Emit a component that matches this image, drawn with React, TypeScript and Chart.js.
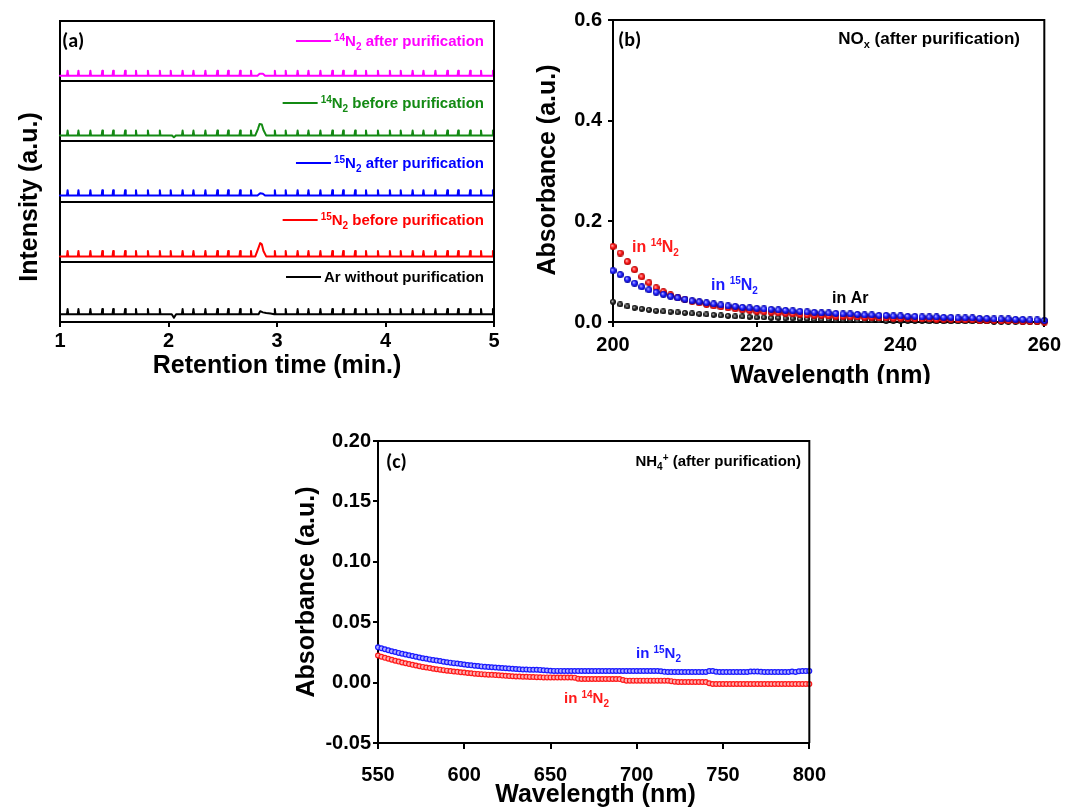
import React, { useEffect, useRef } from 'react';
import { Chart, registerables } from 'chart.js';

Chart.register(...registerables);

type Seg = [string, 'n' | 'sup' | 'sub'];
const FONT = "Arial, 'Liberation Sans', Helvetica, sans-serif";
const LFONT = "Carlito, Lato, 'Open Sans', sans-serif";

// ---------------- Panel (a): GC traces ----------------
const retentionTicks = [1, 2, 3, 4, 5];
const spikeTimes = [1.07, 1.17, 1.28, 1.39, 1.49, 1.6, 1.7, 1.81, 1.92, 2.02, 2.13, 2.23, 2.34, 2.45, 2.55, 2.66, 2.76, 2.87, 2.98, 3.08, 3.19, 3.29, 3.4, 3.51, 3.61, 3.72, 3.82, 3.93, 4.04, 4.14, 4.25, 4.35, 4.46, 4.57, 4.67, 4.78, 4.88, 4.99];
const traceLabels: Seg[][] = [
  [['14', 'sup'], ['N', 'n'], ['2', 'sub'], [' after purification', 'n']],
  [['14', 'sup'], ['N', 'n'], ['2', 'sub'], [' before purification', 'n']],
  [['15', 'sup'], ['N', 'n'], ['2', 'sub'], [' after purification', 'n']],
  [['15', 'sup'], ['N', 'n'], ['2', 'sub'], [' before purification', 'n']],
  [['Ar without purification', 'n']],
];
const traceColors = ['#ff00ff', '#138a13', '#0000ff', '#ff0000', '#000000'];
const traceSlots = [4, 3, 2, 1, 0];
const traceBaselines = [0.09, 0.1, 0.1, 0.09, 0.13];
const traceSpikeHeights = [0.085, 0.08, 0.09, 0.09, 0.085];
const traceFeatures: [number, number][][] = [
  [[2.82, 0], [2.84, 0.035], [2.87, 0.035], [2.89, 0]],
  [[2.03, 0], [2.05, -0.03], [2.07, 0], [2.8, 0], [2.825, 0.11], [2.84, 0.19], [2.86, 0.18], [2.875, 0.09], [2.9, 0]],
  [[2.82, 0], [2.845, 0.04], [2.87, 0.03], [2.89, 0]],
  [[2.8, 0], [2.825, 0.12], [2.845, 0.22], [2.86, 0.2], [2.875, 0.09], [2.9, 0]],
  [[2.03, 0], [2.05, -0.06], [2.07, 0], [2.83, 0], [2.845, 0.05], [2.87, 0.03], [2.9, 0.02], [2.94, 0.01]],
];

// ---------------- Panel (b): NOx absorbance ----------------
const wavelengthsB = Array.from({ length: 61 }, (_, i) => 200 + i);
const wavelengthTicksB = [200, 220, 240, 260];
const absTicksB = [0, 0.2, 0.4, 0.6];
const noxIn15N2 = [
  0.102, 0.094, 0.085, 0.077, 0.07, 0.064, 0.059, 0.055, 0.051, 0.048,
  0.045, 0.042, 0.04, 0.038, 0.036, 0.034, 0.032, 0.031, 0.029, 0.028,
  0.027, 0.026, 0.025, 0.024, 0.023, 0.022, 0.021, 0.02, 0.019, 0.018,
  0.018, 0.017, 0.016, 0.016, 0.015, 0.014, 0.014, 0.013, 0.013, 0.012,
  0.012, 0.011, 0.011, 0.01, 0.01, 0.01, 0.009, 0.009, 0.008, 0.008,
  0.008, 0.007, 0.007, 0.006, 0.006, 0.006, 0.005, 0.005, 0.004, 0.004, 0.003,
];
const noxIn14N2 = [
  0.15, 0.137, 0.12, 0.104, 0.09, 0.078, 0.068, 0.06, 0.054, 0.049,
  0.045, 0.041, 0.038, 0.035, 0.032, 0.03, 0.028, 0.026, 0.024, 0.023,
  0.021, 0.02, 0.019, 0.018, 0.017, 0.016, 0.015, 0.014, 0.013, 0.013,
  0.012, 0.011, 0.011, 0.01, 0.01, 0.009, 0.009, 0.008, 0.008, 0.007,
  0.007, 0.007, 0.006, 0.006, 0.006, 0.005, 0.005, 0.005, 0.004, 0.004,
  0.004, 0.003, 0.003, 0.003, 0.002, 0.002, 0.002, 0.001, 0.001, 0.001, 0.0,
];
const noxInAr = [
  0.04, 0.035, 0.031, 0.028, 0.026, 0.024, 0.022, 0.021, 0.02, 0.019,
  0.018, 0.017, 0.016, 0.015, 0.014, 0.013, 0.012, 0.011, 0.011, 0.01,
  0.009, 0.009, 0.008, 0.008, 0.007, 0.007, 0.006, 0.006, 0.005, 0.005,
  0.005, 0.004, 0.004, 0.004, 0.003, 0.003, 0.003, 0.003, 0.002, 0.002,
  0.002, 0.002, 0.002, 0.002, 0.001, 0.001, 0.001, 0.001, 0.001, 0.001,
  0.001, 0.001, 0.001, 0.0, 0.0, 0.0, 0.0, 0.0, 0.0, 0.0, 0.0,
];

// ---------------- Panel (c): NH4+ absorbance ----------------
const wavelengthsC = Array.from({ length: 126 }, (_, i) => 550 + 2 * i);
const wavelengthTicksC = [550, 600, 650, 700, 750, 800];
const absTicksC = [-0.05, 0, 0.05, 0.1, 0.15, 0.2];
const nh4In15N2 = [
  0.0292, 0.0284, 0.0276, 0.0268, 0.026, 0.0253, 0.0246, 0.0239, 0.0232, 0.0226, 0.022, 0.0214, 0.0208, 0.0202, 0.0197, 0.0192, 0.0187, 0.0182, 0.0178, 0.0173, 0.0169, 0.0165, 0.0161, 0.0158, 0.0154,
  0.015, 0.0146, 0.0143, 0.014, 0.0137, 0.0134, 0.0131, 0.0129, 0.0127, 0.0125, 0.0123, 0.0121, 0.0119, 0.0117, 0.0115, 0.0113, 0.0111, 0.0109, 0.0108, 0.0107, 0.0106, 0.0106, 0.0105, 0.0102, 0.01,
  0.0098, 0.0097, 0.0097, 0.0097, 0.0096, 0.0096, 0.0096, 0.0096, 0.0096, 0.0096, 0.0096, 0.0096, 0.0096, 0.0096, 0.0096, 0.0096, 0.0096, 0.0096, 0.0096, 0.0096, 0.0096, 0.0096, 0.0096, 0.0096, 0.0096,
  0.0096, 0.0096, 0.0096, 0.0096, 0.0096, 0.0096, 0.0096, 0.0094, 0.0089, 0.0088, 0.0088, 0.0088, 0.0088, 0.0088, 0.0088, 0.0088, 0.0088, 0.0088, 0.0088, 0.0088, 0.0088, 0.0095, 0.0096, 0.009, 0.0088,
  0.0088, 0.0088, 0.0088, 0.0088, 0.0088, 0.0088, 0.0088, 0.0088, 0.0092, 0.0092, 0.0092, 0.0089, 0.0088, 0.0088, 0.0088, 0.0088, 0.0088, 0.0088, 0.0088, 0.0088, 0.0092, 0.0088, 0.0094, 0.0095, 0.0095,
  0.0095,
];
const nh4In14N2 = [
  0.0224, 0.0214, 0.0205, 0.0197, 0.0189, 0.0181, 0.0174, 0.0167, 0.016, 0.0153, 0.0147, 0.0141, 0.0135, 0.013, 0.0125, 0.012, 0.0115, 0.0111, 0.0107, 0.0103, 0.0099, 0.0095, 0.0092, 0.0089, 0.0086,
  0.0083, 0.008, 0.0077, 0.0074, 0.0072, 0.007, 0.0068, 0.0066, 0.0064, 0.0062, 0.006, 0.0058, 0.0056, 0.0054, 0.0052, 0.0051, 0.005, 0.0049, 0.0048, 0.0047, 0.0046, 0.0045, 0.0044, 0.0043, 0.0043,
  0.0043, 0.0042, 0.0042, 0.0042, 0.0042, 0.0042, 0.0042, 0.0041, 0.0032, 0.003, 0.003, 0.003, 0.003, 0.003, 0.003, 0.003, 0.003, 0.003, 0.003, 0.003, 0.0029, 0.0022, 0.0016, 0.0016, 0.0016,
  0.0016, 0.0016, 0.0016, 0.0016, 0.0016, 0.0016, 0.0016, 0.0016, 0.0016, 0.0015, 0.0012, 0.0008, 0.0005, 0.0005, 0.0005, 0.0005, 0.0005, 0.0005, 0.0005, 0.0005, 0.0004, -0.0006, -0.0011, -0.0011, -0.0011,
  -0.0011, -0.0011, -0.0011, -0.0011, -0.0011, -0.0011, -0.0011, -0.0011, -0.0011, -0.0011, -0.0011, -0.0011, -0.0011, -0.0011, -0.0011, -0.0011, -0.0011, -0.0011, -0.0011, -0.0011, -0.0011, -0.0011, -0.0011, -0.0011, -0.0011,
  -0.0011,
];

// ---------------- helpers ----------------
function buildTrace(i: number) {
  const b = traceSlots[i] + traceBaselines[i];
  const h = traceSpikeHeights[i];
  const feats = traceFeatures[i];
  const pts: { x: number; y: number }[] = [{ x: 1, y: b }];
  const busy = (t: number) => feats.some(([ft]) => Math.abs(ft - t) < 0.03);
  for (const t of spikeTimes) {
    if (busy(t)) continue;
    pts.push({ x: t - 0.006, y: b }, { x: t, y: b + h }, { x: t + 0.006, y: b });
  }
  for (const [t, d] of feats) pts.push({ x: t, y: b + d });
  pts.push({ x: 5, y: b });
  pts.sort((p, q) => p.x - q.x);
  return pts;
}

function drawRich(ctx: CanvasRenderingContext2D, segs: Seg[], x: number, yc: number, align: string, size: number, color: string) {
  const small = Math.round(size * 0.64);
  const fontOf = (k: string) => `bold ${k === 'n' ? size : small}px ${FONT}`;
  const widths = segs.map(([t, k]) => {
    ctx.font = fontOf(k);
    return ctx.measureText(t).width;
  });
  const total = widths.reduce((a, b) => a + b, 0);
  const x0 = align === 'right' ? x - total : align === 'center' ? x - total / 2 : x;
  const base = yc + size * 0.358;
  ctx.save();
  ctx.fillStyle = color;
  ctx.textAlign = 'left';
  ctx.textBaseline = 'alphabetic';
  let cx = x0;
  segs.forEach(([t, k], i) => {
    ctx.font = fontOf(k);
    const dy = k === 'sup' ? -size * 0.36 : k === 'sub' ? size * 0.24 : 0;
    ctx.fillText(t, cx, base + dy);
    cx += widths[i];
  });
  ctx.restore();
  return x0;
}

function drawVTitle(ctx: CanvasRenderingContext2D, text: string, cx: number, cy: number, size: number) {
  ctx.save();
  ctx.translate(cx, cy);
  ctx.rotate(-Math.PI / 2);
  ctx.font = `bold ${size}px ${FONT}`;
  ctx.fillStyle = '#000';
  ctx.textAlign = 'center';
  ctx.textBaseline = 'middle';
  ctx.fillText(text, 0, 0);
  ctx.restore();
}

function drawHTitle(ctx: CanvasRenderingContext2D, text: string, cx: number, baseline: number, size: number) {
  ctx.save();
  ctx.font = `bold ${size}px ${FONT}`;
  ctx.fillStyle = '#000';
  ctx.textAlign = 'center';
  ctx.textBaseline = 'alphabetic';
  ctx.fillText(text, cx, baseline);
  ctx.restore();
}

function drawPanelTag(ctx: CanvasRenderingContext2D, text: string, x: number, yc: number) {
  ctx.save();
  ctx.font = `bold 20px ${LFONT}`;
  ctx.fillStyle = '#000';
  ctx.textAlign = 'left';
  ctx.textBaseline = 'middle';
  ctx.fillText(text, x, yc);
  ctx.restore();
}

function sphere(d: number, light: string, base: string, dark: string) {
  const c = document.createElement('canvas');
  c.width = d;
  c.height = d;
  const g = c.getContext('2d')!;
  const r = d / 2;
  const grad = g.createRadialGradient(r * 0.75, r * 0.75, 0.2, r, r, r);
  grad.addColorStop(0, light);
  grad.addColorStop(0.5, base);
  grad.addColorStop(1, dark);
  g.fillStyle = grad;
  g.beginPath();
  g.arc(r, r, r, 0, Math.PI * 2);
  g.fill();
  return c;
}

const framePlugin = {
  id: 'frame',
  afterDatasetsDraw(chart: any) {
    const { ctx, chartArea: a } = chart;
    ctx.save();
    ctx.strokeStyle = '#000';
    ctx.lineWidth = 2;
    ctx.beginPath();
    ctx.moveTo(a.left, a.top);
    ctx.lineTo(a.right, a.top);
    ctx.lineTo(a.right, a.bottom);
    ctx.stroke();
    ctx.restore();
  },
};

function axisX(min: number, max: number, ticks: number[], height: number, tickLen: number, pad: number, fmt: (v: number) => string) {
  return {
    type: 'linear',
    min,
    max,
    afterBuildTicks: (s: any) => { s.ticks = ticks.map((v) => ({ value: v })); },
    afterFit: (s: any) => { s.height = height; },
    grid: { display: true, drawOnChartArea: false, drawTicks: true, tickLength: tickLen, color: '#000', lineWidth: 2 },
    border: { display: true, color: '#000', width: 2 },
    ticks: { color: '#000', font: { family: FONT, size: 20, weight: 'bold' }, padding: pad, maxRotation: 0, autoSkip: false, callback: (v: any) => fmt(Number(v)) },
  };
}

function axisY(min: number, max: number, ticks: number[], width: number, tickLen: number, pad: number, fmt: (v: number) => string) {
  return {
    type: 'linear',
    min,
    max,
    afterBuildTicks: (s: any) => { s.ticks = ticks.map((v) => ({ value: v })); },
    afterFit: (s: any) => { s.width = width; },
    grid: { display: true, drawOnChartArea: false, drawTicks: true, tickLength: tickLen, color: '#000', lineWidth: 2 },
    border: { display: true, color: '#000', width: 2 },
    ticks: { color: '#000', font: { family: FONT, size: 20, weight: 'bold' }, padding: pad, autoSkip: false, callback: (v: any) => fmt(Number(v)) },
  };
}

export default function App() {
  const refA = useRef<HTMLCanvasElement>(null);
  const refB = useRef<HTMLCanvasElement>(null);
  const refC = useRef<HTMLCanvasElement>(null);

  useEffect(() => {
    const charts: Chart[] = [];

    // ---------- (a) ----------
    const labelYs = [41, 103, 163, 220, 277];
    const chartA = new Chart(refA.current!, {
      type: 'scatter',
      data: {
        datasets: traceLabels.map((_, i) => ({
          data: buildTrace(i),
          showLine: true,
          borderColor: traceColors[i],
          borderWidth: 2,
          borderJoinStyle: 'round',
          borderCapStyle: 'round',
          pointRadius: 0,
          tension: 0,
          clip: false,
        })),
      },
      options: {
        animation: false,
        responsive: false,
        layout: { padding: { left: 0, top: 21, right: 21, bottom: 0 } },
        plugins: { legend: { display: false }, tooltip: { enabled: false } },
        scales: {
          x: axisX(1, 5, retentionTicks, 68, 5, 2, (v) => String(v)) as any,
          y: {
            type: 'linear',
            min: 0,
            max: 5,
            afterBuildTicks: (s: any) => { s.ticks = [0, 1, 2, 3, 4, 5].map((v) => ({ value: v })); },
            afterFit: (s: any) => { s.width = 60; },
            ticks: { display: false },
            grid: { color: '#000', lineWidth: 2, drawTicks: false },
            border: { display: true, color: '#000', width: 2 },
          } as any,
        },
      },
      plugins: [
        framePlugin,
        {
          id: 'textA',
          afterDraw(chart: any) {
            const ctx = chart.ctx as CanvasRenderingContext2D;
            traceLabels.forEach((segs, i) => {
              const x0 = drawRich(ctx, segs, 484, labelYs[i], 'right', 15, traceColors[i]);
              ctx.save();
              ctx.strokeStyle = traceColors[i];
              ctx.lineWidth = 2;
              ctx.beginPath();
              ctx.moveTo(x0 - 38, labelYs[i]);
              ctx.lineTo(x0 - 3, labelYs[i]);
              ctx.stroke();
              ctx.restore();
            });
            drawPanelTag(ctx, '(a)', 62, 42);
            drawVTitle(ctx, 'Intensity (a.u.)', 30, 197, 25);
            drawHTitle(ctx, 'Retention time (min.)', 277, 373, 25);
          },
        },
      ],
    } as any);
    charts.push(chartA);

    // ---------- (b) ----------
    const redSphere = sphere(7, '#ffb4b4', '#ff1a1a', '#a80000');
    const blueSphere = sphere(7, '#b4b4ff', '#1f1fff', '#00009a');
    const blackSphere = sphere(6, '#b8b8b8', '#2a2a2a', '#000000');
    const mk = (vals: number[]) => wavelengthsB.map((x, i) => ({ x, y: vals[i] }));
    const chartB = new Chart(refB.current!, {
      type: 'scatter',
      data: {
        datasets: [
          { data: mk(noxIn15N2), pointStyle: blueSphere, pointRadius: 3.5, clip: false },
          { data: mk(noxIn14N2), pointStyle: redSphere, pointRadius: 3.5, clip: false },
          { data: mk(noxInAr), pointStyle: blackSphere, pointRadius: 3, clip: false },
        ],
      },
      options: {
        animation: false,
        responsive: false,
        layout: { padding: { left: 0, top: 20, right: 19, bottom: 0 } },
        plugins: { legend: { display: false }, tooltip: { enabled: false } },
        scales: {
          x: axisX(200, 260, wavelengthTicksB, 78, 5, 6, (v) => String(v)) as any,
          y: axisY(0, 0.6, absTicksB, 93, 5, 6, (v) => v.toFixed(1)) as any,
        },
      },
      plugins: [
        framePlugin,
        {
          id: 'textB',
          afterDraw(chart: any) {
            const ctx = chart.ctx as CanvasRenderingContext2D;
            drawPanelTag(ctx, '(b)', 98, 41);
            drawRich(ctx, [['NO', 'n'], ['x', 'sub'], [' (after purification)', 'n']], 500, 38, 'right', 17, '#000');
            drawRich(ctx, [['in ', 'n'], ['14', 'sup'], ['N', 'n'], ['2', 'sub']], 112, 246, 'left', 16, '#ff1a1a');
            drawRich(ctx, [['in ', 'n'], ['15', 'sup'], ['N', 'n'], ['2', 'sub']], 191, 284, 'left', 16, '#1a1aff');
            drawRich(ctx, [['in Ar', 'n']], 312, 297, 'left', 16, '#000');
            drawVTitle(ctx, 'Absorbance (a.u.)', 28, 170, 25);
            drawHTitle(ctx, 'Wavelength (nm)', 310.5, 383, 25);
          },
        },
      ],
    } as any);
    charts.push(chartB);

    // ---------- (c) ----------
    const mkC = (vals: number[]) => wavelengthsC.map((x, i) => ({ x, y: vals[i] }));
    const chartC = new Chart(refC.current!, {
      type: 'scatter',
      data: {
        datasets: [
          { data: mkC(nh4In15N2), pointStyle: 'circle', pointRadius: 2.4, borderWidth: 1.2, borderColor: '#1a1aff', backgroundColor: '#aeaeff', clip: false },
          { data: mkC(nh4In14N2), pointStyle: 'circle', pointRadius: 2.4, borderWidth: 1.2, borderColor: '#ff1a1a', backgroundColor: '#ffaeae', clip: false },
        ],
      },
      options: {
        animation: false,
        responsive: false,
        layout: { padding: { left: 0, top: 21, right: 27, bottom: 0 } },
        plugins: { legend: { display: false }, tooltip: { enabled: false } },
        scales: {
          x: axisX(550, 800, wavelengthTicksC, 66, 6, 14, (v) => String(v)) as any,
          y: axisY(-0.05, 0.2, absTicksC, 98, 5, 2, (v) => v.toFixed(2)) as any,
        },
      },
      plugins: [
        framePlugin,
        {
          id: 'textC',
          afterDraw(chart: any) {
            const ctx = chart.ctx as CanvasRenderingContext2D;
            drawPanelTag(ctx, '(c)', 106, 43);
            drawRich(ctx, [['NH', 'n'], ['4', 'sub'], ['+', 'sup'], [' (after purification)', 'n']], 521, 41, 'right', 15, '#000');
            drawRich(ctx, [['in ', 'n'], ['15', 'sup'], ['N', 'n'], ['2', 'sub']], 356, 233, 'left', 15, '#1a1aff');
            drawRich(ctx, [['in ', 'n'], ['14', 'sup'], ['N', 'n'], ['2', 'sub']], 284, 278, 'left', 15, '#ff1a1a');
            drawVTitle(ctx, 'Absorbance (a.u.)', 27, 172, 25);
            drawHTitle(ctx, 'Wavelength (nm)', 315.5, 382, 25);
          },
        },
      ],
    } as any);
    charts.push(chartC);

    return () => charts.forEach((c) => c.destroy());
  }, []);

  return (
    <div style={{ position: 'absolute', left: 0, top: 0, width: 1067, height: 809, background: '#fff', overflow: 'hidden' }}>
      <div style={{ position: 'absolute', left: 0, top: 0, width: 515, height: 390 }}>
        <canvas ref={refA} width={515} height={390} style={{ display: 'block', width: 515, height: 390 }} />
      </div>
      <div style={{ position: 'absolute', left: 520, top: 0, width: 547, height: 384, overflow: 'hidden' }}>
        <canvas ref={refB} width={547} height={400} style={{ display: 'block', width: 547, height: 400 }} />
      </div>
      <div style={{ position: 'absolute', left: 280, top: 420, width: 560, height: 389 }}>
        <canvas ref={refC} width={560} height={389} style={{ display: 'block', width: 560, height: 389 }} />
      </div>
    </div>
  );
}
